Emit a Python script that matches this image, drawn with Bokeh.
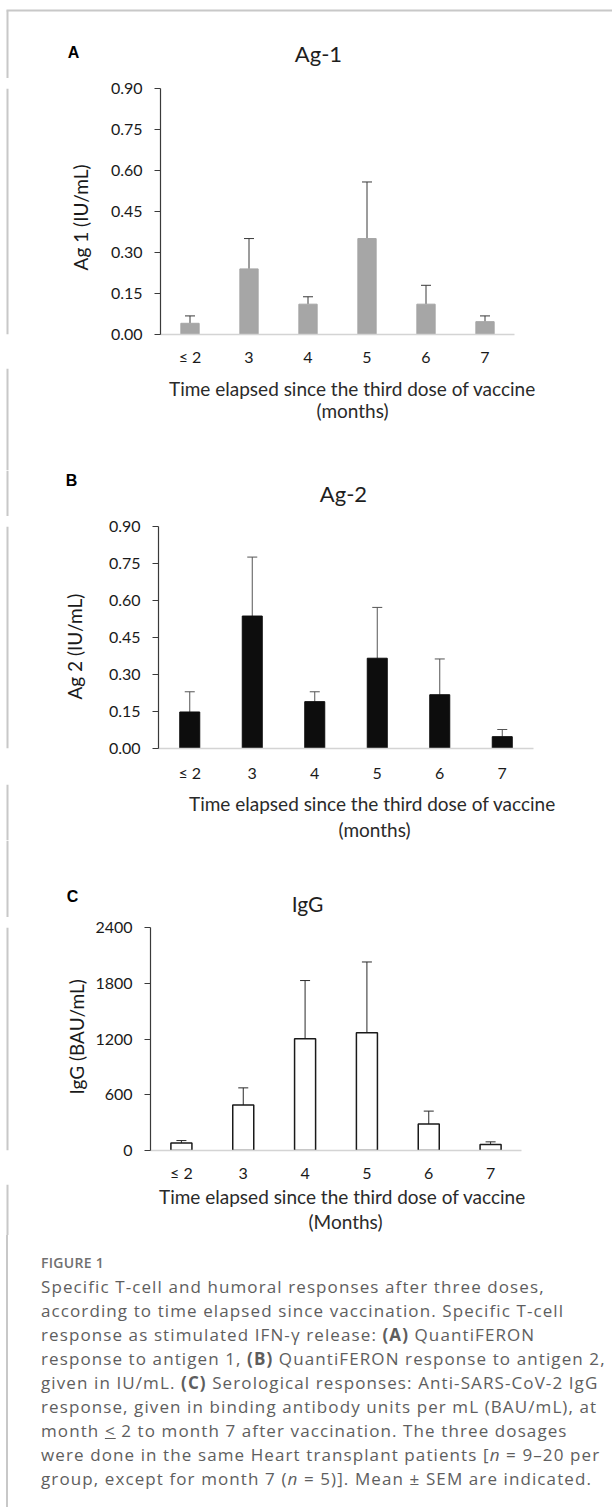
import math
from bokeh.plotting import figure
from bokeh.models import (ColumnDataSource, FactorRange, Range1d, FixedTicker,
                          Whisker, TeeHead, Div, Span)
from bokeh.layouts import column, row
from bokeh.core.properties import value
from bokeh.embed import file_html
from bokeh.resources import INLINE

# ---------------- data ----------------
categories = ["≤ 2", "3", "4", "5", "6", "7"]

ag1_mean = [0.041, 0.240, 0.111, 0.351, 0.111, 0.047]
ag1_sem = [0.027, 0.111, 0.027, 0.207, 0.069, 0.021]

ag2_mean = [0.148, 0.537, 0.190, 0.366, 0.218, 0.048]
ag2_sem = [0.082, 0.239, 0.040, 0.206, 0.145, 0.029]

igg_mean = [82, 489, 1202, 1266, 285, 64]
igg_sem = [25, 185, 627, 763, 139, 29]

ag_ticks = [0.0, 0.15, 0.30, 0.45, 0.60, 0.75, 0.90]
ag_tick_labels = ["0.00", "0.15", "0.30", "0.45", "0.60", "0.75", "0.90"]
igg_ticks = [0, 600, 1200, 1800, 2400]
igg_tick_labels = ["0", "600", "1200", "1800", "2400"]

FONT = "Lato"
W = 612
BORDER = "#c8c8c8"


def strip(x0, width, y0, height, border_left=True, border_top=False):
    """A text strip whose frame fills the whole figure; data units = page pixels."""
    f = figure(width=width, height=height,
               x_range=Range1d(x0, x0 + width),
               y_range=Range1d(-(y0 + height), -y0),
               output_backend="svg", toolbar_location=None, title=None,
               x_axis_location=None, y_axis_location=None, min_border=0)
    f.outline_line_color = None
    f.background_fill_color = "white"
    f.border_fill_color = "white"
    f.grid.visible = False
    if border_top:
        f.segment(x0=[6], y0=[-10], x1=[x0 + width], y1=[-10],
                  line_color=BORDER, line_width=2)
        f.segment(x0=[7], y0=[-(y0 + height)], x1=[7], y1=[-10],
                  line_color=BORDER, line_width=2)
    elif border_left:
        f.add_layout(Span(location=7, dimension="height",
                          line_color=BORDER, line_width=2))
    return f


def put(f, text, px, py, size, angle=0.0, bold=False, font=FONT, color="#1a1a1a"):
    f.text(x=[px], y=[-py], text=[text], text_font=value(font),
           text_font_size=value(size), text_align="center",
           text_baseline="middle", angle=angle, text_color=color,
           text_font_style="bold" if bold else "normal")


def panel(letter, title, ylabel, xlab1, xlab2, mean, sem, ticks, tick_labels,
          ymax, g, bar_w, bar_fill, bar_line, bar_lw, err_color):
    # header strip: panel letter and title
    h0, hH = g["head"]
    head = strip(0, W, h0, hH, border_top=g.get("top_border", False))
    put(head, letter, g["letter"][0], g["letter"][1], "16px", bold=True,
        font="Liberation Sans", color="black")
    put(head, title, g["title"][0], g["title"][1], g.get("tsize", "22px"),
        color="#1e1e1e")

    # y-label strip
    r0, rH = g["row"]
    sw = g["sw"]
    ylab = strip(0, sw, r0, rH)
    put(ylab, ylabel, g["ylab"][0], g["ylab"][1], "19px", angle=math.pi / 2)

    # chart
    L, R, T, B = g["L"], g["R"], g["T"], g["B"]
    p = figure(width=W - sw, height=rH,
               x_range=FactorRange(factors=categories),
               y_range=Range1d(0, ymax),
               output_backend="svg", toolbar_location=None, title=None,
               min_border_left=L - sw, min_border_right=W - R,
               min_border_top=T - r0, min_border_bottom=r0 + rH - B)
    p.background_fill_color = "white"
    p.border_fill_color = "white"
    p.outline_line_color = None
    p.xgrid.visible = False
    p.ygrid.visible = False

    upper = [m + s for m, s in zip(mean, sem)]
    src = ColumnDataSource(dict(cat=categories, mean=mean, upper=upper))
    p.vbar(x="cat", top="mean", width=bar_w, source=src,
           fill_color=bar_fill, line_color=bar_line, line_width=bar_lw)
    w = Whisker(base="cat", lower="mean", upper="upper", source=src,
                dimension="height", line_color=err_color, line_width=1,
                lower_head=None,
                upper_head=TeeHead(size=10, line_color=err_color, line_width=1))
    p.add_layout(w)

    ya = p.yaxis[0]
    ya.ticker = FixedTicker(ticks=ticks)
    ya.major_label_overrides = {t: l for t, l in zip(ticks, tick_labels)}
    ya.axis_line_color = "#3a3a3a"
    ya.axis_line_width = 1.2
    ya.major_tick_line_color = "#3a3a3a"
    ya.major_tick_out = 6
    ya.major_tick_in = 0
    ya.minor_tick_line_color = None
    ya.major_label_standoff = 12
    ya.major_label_text_font = FONT
    ya.major_label_text_font_size = "16px"
    ya.major_label_text_color = "#1a1a1a"

    xa = p.xaxis[0]
    xa.axis_line_color = "#d4d4d4"
    xa.axis_line_width = 1.5
    xa.major_tick_line_color = None
    xa.major_tick_out = 0
    xa.major_tick_in = 0
    xa.minor_tick_line_color = None
    xa.major_label_standoff = g["xstand"]
    xa.major_label_text_font = FONT
    xa.major_label_text_font_size = "16px"
    xa.major_label_text_color = "#1a1a1a"

    # footer strip: x-axis title
    f0, fH = g["foot"]
    foot = strip(0, W, f0, fH)
    put(foot, xlab1, g["x1"][0], g["x1"][1], "19px", color="#2a2a2a")
    put(foot, xlab2, g["x2"][0], g["x2"][1], "19px", color="#2a2a2a")

    return column(head, row(ylab, p), foot)


geoA = dict(head=(0, 78), row=(78, 290), foot=(368, 102), sw=100, top_border=True,
            L=160, R=514, T=88, B=334, xstand=12,
            letter=(73, 52), title=(318, 53), ylab=(80, 230),
            x1=(352, 388), x2=(352, 410))
geoB = dict(head=(470, 46), row=(516, 268), foot=(784, 56), sw=98,
            L=158, R=533, T=526, B=749, xstand=14,
            letter=(71, 480), title=(343, 493), ylab=(74, 661),
            x1=(372, 803), x2=(374, 829))
geoC = dict(head=(840, 77), row=(917, 267), foot=(1184, 51), sw=92,
            L=149, R=521, T=927, B=1152, xstand=12,
            letter=(72, 896), title=(307, 903), tsize="21px", ylab=(76, 1048),
            x1=(342, 1196), x2=(345, 1221))

pA = panel("A", "Ag-1", "Ag 1 (IU/mL)",
           "Time elapsed since the third dose of vaccine", "(months)",
           ag1_mean, ag1_sem, ag_ticks, ag_tick_labels, 0.9, geoA, 0.31,
           "#a6a6a6", "#a6a6a6", 1, "#3a3a3a")
pB = panel("B", "Ag-2", "Ag 2 (IU/mL)",
           "Time elapsed since the third dose of vaccine", "(months)",
           ag2_mean, ag2_sem, ag_ticks, ag_tick_labels, 0.9, geoB, 0.32,
           "#0d0d0d", "#0d0d0d", 1, "#555555")
pC = panel("C", "IgG", "IgG (BAU/mL)",
           "Time elapsed since the third dose of vaccine", "(Months)",
           igg_mean, igg_sem, igg_ticks, igg_tick_labels, 2400, geoC, 0.34,
           "white", "#1a1a1a", 1.5, "#2a2a2a")

caption_lines = [
    "Specific T-cell and humoral responses after three doses,",
    "according to time elapsed since vaccination. Specific T-cell",
    "response as stimulated IFN-γ release: <b>(A)</b> QuantiFERON",
    "response to antigen 1, <b>(B)</b> QuantiFERON response to antigen 2,",
    "given in IU/mL. <b>(C)</b> Serological responses: Anti-SARS-CoV-2 IgG",
    "response, given in binding antibody units per mL (BAU/mL), at",
    "month <u>&lt;</u> 2 to month 7 after vaccination. The three dosages",
    "were done in the same Heart transplant patients [<i>n</i> = 9–20 per",
    "group, except for month 7 (<i>n</i> = 5)]. Mean ± SEM are indicated.",
]
html = ('<div style="font-family:\'Open Sans\'; color:#5e5e5e; font-size:17px; '
        'letter-spacing:1.1px; line-height:24px; white-space:nowrap; '
        'margin-left:6px; border-left:2px solid ' + BORDER + '; height:272px; '
        'padding-top:16px; padding-left:33px; box-sizing:border-box;">'
        '<div style="font-size:14px; font-weight:600; letter-spacing:0.3px; '
        'color:#707070;">FIGURE 1</div>'
        + "<br>".join(caption_lines) + '</div>')
cap = Div(text=html, width=W, height=272, margin=0)

layout = column(pA, pB, pC, cap)

open("out.html", "w").write(file_html(layout, INLINE))
